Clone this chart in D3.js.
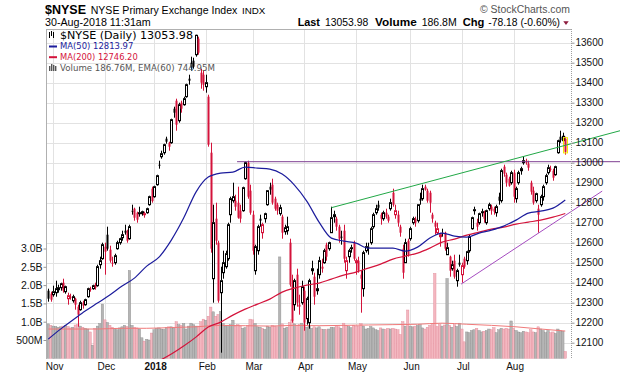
<!DOCTYPE html>
<html>
<head>
<meta charset="utf-8">
<script src="https://cdn.jsdelivr.net/npm/d3@7"></script>
<style>
  body { margin: 0; background: #fff; }
  text { font-family: "Liberation Sans", Arial, sans-serif; }
</style>
</head>
<body>
<svg id="chart" width="620" height="376"></svg>
<script>
// trading calendar (categories)
const holidays = ["2017-11-23","2017-12-25","2018-01-01","2018-01-15","2018-02-19","2018-03-30","2018-05-28","2018-07-04"];
const dates = [];
for (let d = new Date(Date.UTC(2017, 9, 30)); d <= new Date(Date.UTC(2018, 7, 30)); d.setUTCDate(d.getUTCDate() + 1)) {
  const wd = d.getUTCDay(), s = d.toISOString().slice(0, 10);
  if (wd > 0 && wd < 6 && !holidays.includes(s)) dates.push(s);
}
const monthTicks  = ["2017-11-01","2017-12-01","2018-01-02","2018-02-01","2018-03-01","2018-04-02","2018-05-01","2018-06-01","2018-07-02","2018-08-01"];
const monthLabels = ["Nov","Dec","2018","Feb","Mar","Apr","May","Jun","Jul","Aug"];
const priceTicks = [12100,12200,12300,12400,12500,12600,12700,12800,12900,13000,13100,13200,13300,13400,13500,13600];
const volTicks = [5e8, 1e9, 1.5e9, 2e9, 2.5e9, 3e9];
const volTickLabels = ["500M","1.0B","1.5B","2.0B","2.5B","3.0B"];

const prevClose = 12300;
const opens = [
12360,12345,12340,12350,12365,12375,12400,12355,12320,12330,
12310,12320,12280,12265,12300,12290,12330,12370,12370,12390,
12385,12490,12520,12580,12640,12565,12500,12500,12570,12600,
12625,12660,12660,12620,12760,12770,12750,12745,12745,12740,
12750,12790,12870,12830,12890,12990,13030,13050,13120,13100,
13100,13270,13310,13210,13300,13290,13330,13420,13500,13510,
13540,13620,13450,13440,13380,13330,13050,12420,12720,12600,
12350,12450,12480,12520,12740,12810,12810,12800,12760,12760,
12920,13000,12860,12740,12460,12560,12720,12650,12720,12790,
12880,12890,12820,12790,12745,12730,12655,12660,12600,12390,
12290,12440,12290,12300,12360,12220,12200,12460,12430,12360,
12440,12480,12500,12590,12570,12650,12730,12720,12680,12630,
12660,12460,12530,12570,12600,12500,12510,12440,12370,12560,
12580,12600,12680,12750,12790,12740,12720,12750,12730,12770,
12850,12740,12740,12680,12570,12500,12610,12620,12700,12720,
12710,12820,12820,12880,12860,12850,12740,12700,12650,12630,
12650,12650,12540,12530,12470,12510,12410,12500,12440,12520,
12510,12560,12670,12760,12700,12700,12750,12750,12700,12770,
12780,12770,12750,12830,12810,12980,12940,12920,12900,12950,
12820,12900,12960,13000,13010,12995,12900,12860,12810,12770,
12790,12830,12900,12950,12970,12960,12940,13050,13130,13110,
13120];
const highs = [
12370,12355,12385,12410,12390,12400,12420,12385,12350,12345,
12340,12325,12290,12310,12310,12320,12375,12380,12390,12400,
12490,12530,12600,12600,12680,12585,12530,12545,12610,12625,
12660,12690,12665,12690,12790,12775,12755,12780,12760,12755,
12775,12835,12880,12885,12940,13010,13060,13095,13130,13105,
13220,13280,13320,13300,13310,13330,13395,13440,13530,13525,
13640,13630,13470,13460,13440,13340,13100,12790,12800,12610,
12480,12560,12560,12700,12830,12900,12840,12880,12790,12880,
13005,13010,12890,12760,12590,12690,12740,12700,12750,12860,
12900,12920,12830,12800,12790,12740,12690,12730,12620,12440,
12420,12470,12340,12410,12380,12330,12420,12510,12450,12470,
12530,12520,12570,12600,12605,12780,12760,12730,12690,12660,
12690,12530,12570,12590,12610,12520,12530,12460,12560,12600,
12600,12680,12750,12790,12810,12750,12760,12770,12740,12820,
12870,12790,12760,12690,12590,12620,12620,12680,12730,12730,
12790,12850,12890,12890,12870,12860,12750,12710,12700,12650,
12670,12655,12600,12535,12510,12540,12470,12540,12500,12530,
12560,12640,12730,12780,12720,12750,12770,12760,12765,12800,
12790,12780,12790,12850,12970,12990,12950,12930,12960,12965,
12880,12960,12980,13030,13020,13010,12910,12880,12850,12790,
12840,12890,12945,12990,12985,12970,12985,13115,13160,13150,
13130];
const lows = [
12305,12305,12330,12330,12350,12360,12350,12345,12290,12315,
12300,12265,12180,12260,12270,12285,12325,12355,12365,12365,
12380,12470,12515,12440,12560,12500,12480,12490,12565,12590,
12610,12640,12600,12615,12740,12710,12700,12730,12735,12725,
12745,12785,12800,12825,12885,12970,13020,13040,13095,13060,
13095,13225,13160,13200,13250,13285,13325,13390,13460,13470,
13530,13540,13370,13360,13350,13080,12550,12300,12590,12300,
12050,12420,12470,12510,12700,12800,12760,12720,12700,12755,
12915,12820,12740,12540,12440,12540,12680,12620,12700,12785,
12840,12790,12760,12740,12735,12620,12640,12640,12380,12200,
12260,12280,12240,12290,12160,12190,12170,12440,12290,12340,
12420,12450,12495,12510,12560,12650,12700,12660,12600,12590,
12500,12420,12500,12550,12510,12440,12450,12250,12330,12550,
12540,12590,12670,12740,12760,12690,12710,12720,12700,12760,
12780,12720,12680,12630,12420,12500,12530,12610,12690,12680,
12700,12790,12810,12860,12800,12750,12700,12640,12640,12580,
12630,12560,12540,12430,12460,12420,12380,12480,12400,12470,
12490,12550,12665,12740,12660,12690,12730,12700,12690,12760,
12740,12740,12730,12790,12800,12930,12880,12880,12890,12800,
12800,12890,12940,12990,12990,12960,12840,12790,12800,12650,
12780,12810,12890,12940,12955,12910,12935,13045,13100,13090,
13040];
const closes = [
12320,12315,12355,12370,12375,12395,12360,12380,12335,12325,
12330,12290,12240,12300,12285,12315,12370,12365,12385,12375,
12480,12510,12590,12555,12570,12510,12495,12535,12600,12620,
12640,12650,12610,12680,12760,12725,12715,12750,12755,12745,
12770,12830,12808,12880,12935,12985,13045,13090,13105,13080,
13215,13250,13190,13290,13270,13320,13390,13410,13475,13480,
13637,13550,13400,13390,13400,13090,12570,12700,12610,12310,
12410,12500,12545,12690,12820,12830,12780,12725,12720,12875,
13000,12830,12750,12560,12580,12680,12710,12690,12745,12860,
12865,12800,12770,12760,12775,12650,12675,12680,12390,12210,
12410,12300,12280,12380,12200,12320,12410,12470,12330,12370,
12510,12470,12560,12530,12600,12725,12740,12680,12620,12625,
12520,12510,12560,12575,12520,12510,12460,12420,12550,12580,
12580,12670,12740,12770,12775,12720,12750,12730,12710,12800,
12790,12760,12700,12650,12450,12600,12540,12670,12720,12700,
12790,12810,12870,12865,12810,12800,12720,12680,12670,12640,
12650,12570,12575,12460,12490,12430,12460,12490,12485,12480,
12555,12630,12725,12765,12680,12745,12755,12720,12760,12790,
12760,12755,12780,12810,12960,12945,12900,12885,12950,12830,
12870,12950,12970,13010,13000,12975,12855,12800,12845,12740,
12830,12880,12935,12975,12965,12925,12980,13110,13112,13132,
13054];
// volume, millions
const volumes = [
940,900,880,870,850,860,880,900,870,830,
850,910,920,880,850,820,800,720,360,820,
880,950,1480,1050,980,900,850,820,780,830,
860,900,870,2400,900,850,830,800,560,470,
520,500,690,780,820,830,800,790,840,860,
860,820,1000,920,900,950,800,880,960,920,
880,880,1000,1070,1040,1150,1400,1270,1150,1200,
1280,950,880,900,920,1040,880,920,880,820,
840,900,1070,1050,950,860,850,820,790,880,
850,900,880,860,2770,940,820,850,980,1050,
940,900,920,960,920,850,880,820,860,830,
860,800,790,780,800,850,840,870,860,820,
960,900,870,840,900,880,880,950,880,800,
820,870,830,780,760,830,800,790,820,800,
820,800,780,650,1000,880,1320,880,860,880,
900,920,830,800,850,900,920,2320,870,920,
880,910,2180,900,850,920,870,960,800,450,
720,700,760,780,820,760,720,740,760,800,
780,840,700,780,820,800,820,800,1020,820,
760,720,700,740,720,700,780,720,700,860,
800,760,700,760,700,720,680,800,760,740,
187];
// indicator readings, one every 5 sessions
const ma50 = [12118,12168,12213,12258,12298,12338,12383,12423,12483,12528,12613,12723,12853,12928,12948,12953,12978,12973,12968,12943,12888,12808,12703,12623,12608,12598,12573,12573,12573,12558,12578,12623,12648,12633,12628,12648,12663,12683,12713,12748,12758,12773,12814];
const ma200 = [11700,11740,11780,11820,11860,11895,11930,11960,11990,12010,12043,12083,12128,12178,12203,12238,12268,12293,12318,12353,12373,12388,12398,12418,12438,12453,12473,12493,12518,12533,12548,12573,12603,12618,12638,12653,12668,12678,12693,12703,12713,12728,12746];
// volume EMA(60), millions, one every 10 sessions
const volEma = [800,800,800,820,820,840,860,900,890,880,900,890,900,910,920,930,960,930,900,860,800,745];
// annotations [session index, price]
const trendUpper = [[115, 12775], [232.3, 13160]];
const trendLower = [[167.7, 12393], [225, 12858]];
const resistance = [[76.7, 13005], [232.3, 13005]];

const svg = d3.select("#chart");
const L = 47, R = 571, T = 29, B = 359;
const RED = "#d4133b", BLK = "#000";

const x = d3.scaleBand().domain(dates).range([47, 566.5]);
const xi = i => x(dates[0]) + x.bandwidth() / 2 + i * x.step();
const y = d3.scaleLinear().domain([12100, 13600]).range([342.7, 42.7]);
const vy = d3.scaleLinear().domain([0, 3e9]).range([358.3, 248.5]);

svg.append("defs").append("clipPath").attr("id", "plot")
  .append("rect").attr("x", L).attr("y", T).attr("width", R - L).attr("height", B - T);

// grid
const grid = svg.append("g");
grid.selectAll(".h").data(priceTicks).join("line")
  .attr("x1", L).attr("x2", R)
  .attr("y1", d => Math.round(y(d)) + 0.5).attr("y2", d => Math.round(y(d)) + 0.5)
  .attr("stroke", "#e2e2e2");
grid.selectAll(".v").data(monthTicks).join("line")
  .attr("x1", d => Math.round(xi(dates.indexOf(d))) + 0.5).attr("x2", d => Math.round(xi(dates.indexOf(d))) + 0.5)
  .attr("y1", T).attr("y2", B)
  .attr("stroke", "#e2e2e2");

const isUp = i => closes[i] >= (i ? closes[i - 1] : prevClose);

// volume
svg.append("g").selectAll("rect").data(dates).join("rect")
  .attr("x", d => x(d)).attr("width", x.bandwidth())
  .attr("y", (d, i) => vy(volumes[i] * 1e6))
  .attr("height", (d, i) => vy(0) - vy(volumes[i] * 1e6))
  .attr("fill", (d, i) => isUp(i) ? "#b5b5b5" : "#f3b7c0")
  .attr("stroke", (d, i) => isUp(i) ? "#8c8c8c" : "#e28897")
  .attr("stroke-width", 0.4);

const plotG = svg.append("g").attr("clip-path", "url(#plot)");

plotG.append("path")
  .attr("d", d3.line().x((v, k) => xi(k * 10)).y(v => vy(v * 1e6)).curve(d3.curveMonotoneX)(volEma))
  .attr("fill", "none").attr("stroke", "#f07a7a").attr("stroke-width", 1);

// candles
const cg = plotG.append("g");
dates.forEach((d, i) => {
  const px = Math.round(xi(i));
  const col = isUp(i) ? BLK : RED;
  const o = opens[i], c = closes[i];
  const top = y(Math.max(o, c)), bot = y(Math.min(o, c));
  const hollow = c > o;
  cg.append("line").attr("x1", px + 0.5).attr("x2", px + 0.5)
    .attr("y1", y(highs[i])).attr("y2", hollow ? top : bot).attr("stroke", col);
  cg.append("line").attr("x1", px + 0.5).attr("x2", px + 0.5)
    .attr("y1", hollow ? bot : top).attr("y2", y(lows[i])).attr("stroke", col);
  if (hollow) {
    cg.append("rect").attr("x", px - 0.5).attr("y", top).attr("width", 2)
      .attr("height", Math.max(1, bot - top)).attr("fill", "#fff").attr("stroke", col);
  } else {
    cg.append("rect").attr("x", px - 0.5).attr("y", top).attr("width", 2)
      .attr("height", Math.max(1, bot - top)).attr("fill", col);
  }
  if (i === dates.length - 1) {
    cg.append("rect").attr("x", px - 1.5).attr("y", top - 1).attr("width", 4)
      .attr("height", bot - top + 2).attr("fill", "none").attr("stroke", "#f2e600").attr("stroke-width", 1);
  }
});

const maLine = d3.line().x((v, k) => xi(k * 5)).y(v => y(v)).curve(d3.curveMonotoneX);
plotG.append("path").attr("d", maLine(ma200)).attr("fill", "none").attr("stroke", "#d4133b").attr("stroke-width", 1.2);
plotG.append("path").attr("d", maLine(ma50)).attr("fill", "none").attr("stroke", "#1c1c9c").attr("stroke-width", 1.2);

// annotation lines (run past the plot edge like the original)
const seg = p => d3.line().x(q => xi(q[0])).y(q => y(q[1]))(p);
svg.append("path").attr("d", seg(resistance)).attr("stroke", "#7e3f92").attr("stroke-width", 1).attr("fill", "none");
svg.append("path").attr("d", seg(trendUpper)).attr("stroke", "#21a846").attr("stroke-width", 1).attr("fill", "none");
svg.append("path").attr("d", seg(trendLower)).attr("stroke", "#a54cc0").attr("stroke-width", 1).attr("fill", "none");

// frame
svg.append("line").attr("x1", L).attr("x2", R).attr("y1", T + 0.5).attr("y2", T + 0.5).attr("stroke", "#b0b0b0");
svg.append("line").attr("x1", L - 0.5).attr("x2", L - 0.5).attr("y1", T).attr("y2", B).attr("stroke", "#b0b0b0");
svg.append("line").attr("x1", R + 0.5).attr("x2", R + 0.5).attr("y1", T).attr("y2", B)
  .attr("stroke", "#a0a0a0").attr("stroke-dasharray", "1,1");

// axes
const ra = svg.append("g").attr("transform", `translate(${R + 0.5},0)`)
  .call(d3.axisRight(y).tickValues(priceTicks).tickSize(3).tickPadding(1).tickFormat(d3.format("d")));
ra.select(".domain").remove();
ra.selectAll("line").attr("stroke", "#999");
ra.selectAll("text").attr("font-size", 10).attr("fill", "#111").attr("font-family", "Liberation Sans, Arial, sans-serif");

const la = svg.append("g").attr("transform", `translate(${L - 0.5},0)`)
  .call(d3.axisLeft(vy).tickValues(volTicks).tickSize(3).tickPadding(1).tickFormat((d, i) => volTickLabels[i]));
la.select(".domain").remove();
la.selectAll("line").attr("stroke", "#999");
la.selectAll("text").attr("font-size", 10.5).attr("fill", "#111").attr("font-family", "Liberation Sans, Arial, sans-serif");

const ba = svg.append("g").attr("transform", `translate(1,${B})`)
  .call(d3.axisBottom(d3.scaleOrdinal().domain(monthTicks).range(monthTicks.map(d => xi(dates.indexOf(d)))))
    .tickSize(0).tickPadding(4).tickFormat((d, i) => monthLabels[i]));
ba.select(".domain").remove();
ba.selectAll("text").attr("font-size", 10).attr("fill", "#111").attr("font-family", "Liberation Sans, Arial, sans-serif")
  .attr("font-weight", (d, i) => monthLabels[i] === "2018" ? "bold" : "normal");

// header
const txt = (s, xx, yy, o = {}) => {
  const t = svg.append("text").attr("x", xx).attr("y", yy).text(s)
    .attr("font-size", o.size || 10.5).attr("fill", o.fill || "#000");
  if (o.bold) t.attr("font-weight", "bold");
  if (o.len) t.attr("textLength", o.len).attr("lengthAdjust", "spacingAndGlyphs");
  if (o.font) t.style("font-family", o.font);
  return t;
};
txt("$NYSE", 45, 13.5, {size: 13, bold: true, len: 41});
txt("NYSE Primary Exchange Index", 90.7, 13.5, {size: 10.5, len: 146.6});
txt("INDX", 242, 13.5, {size: 9.5, len: 23.3});
txt("30-Aug-2018 11:31am", 45, 25.7, {size: 10.5, len: 105.7});
txt("Last", 297.7, 25.7, {size: 10.5, bold: true, len: 22.3});
txt("13053.98", 325, 25.7, {size: 10.5, len: 43.3});
txt("Volume", 375, 25.7, {size: 10.5, bold: true, len: 41.7});
txt("186.8M", 421.7, 25.7, {size: 10.5, len: 35});
txt("Chg", 462.7, 25.7, {size: 10.5, bold: true, len: 21.7});
txt("-78.18 (-0.60%)", 488.3, 25.7, {size: 10.5, len: 71.7});
svg.append("path").attr("d", "M563.3,21.2L568.7,21.2L566,25Z").attr("fill", "#8d1b3d");
txt("\u00a9 StockCharts.com", 480, 12.6, {size: 10, fill: "#555", len: 90});

// legend
const LF = "DejaVu Sans, Verdana, sans-serif";
svg.append("rect").attr("x", 49).attr("y", 32).attr("width", 1).attr("height", 6).attr("fill", "#000");
svg.append("rect").attr("x", 51).attr("y", 31).attr("width", 1).attr("height", 5).attr("fill", "#000");
svg.append("rect").attr("x", 53).attr("y", 32).attr("width", 1).attr("height", 6).attr("fill", "#000");
txt("$NYSE (Daily) 13053.98", 60, 38.7, {size: 10.5, len: 133, font: LF});
svg.append("rect").attr("x", 49).attr("y", 45.5).attr("width", 8).attr("height", 2).attr("fill", "#1c1c9c");
txt("MA(50) 12813.97", 60, 49.4, {size: 9, len: 73.3, fill: "#1c1c9c", font: LF});
svg.append("rect").attr("x", 49).attr("y", 56.2).attr("width", 8).attr("height", 2).attr("fill", RED);
txt("MA(200) 12746.20", 60, 60.1, {size: 9, len: 77.7, fill: RED, font: LF});
[[49, 66, 5], [51, 64, 7], [53, 65, 6], [55, 66, 5]].forEach(b =>
  svg.append("rect").attr("x", b[0]).attr("y", b[1]).attr("width", 1.4).attr("height", b[2]).attr("fill", "#555"));
txt("Volume 186.76M, EMA(60) 744.95M", 60, 70.8, {size: 9, len: 155, fill: "#555", font: LF});
</script>
</body>
</html>
